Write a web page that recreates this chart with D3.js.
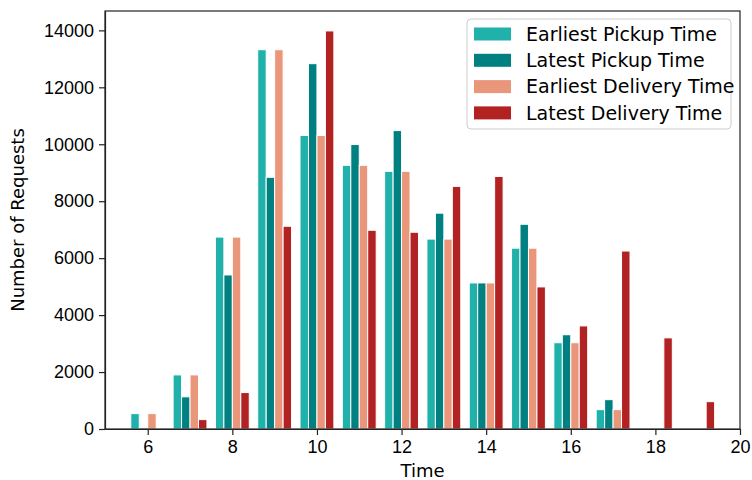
<!DOCTYPE html>
<html>
<head>
<meta charset="utf-8">
<script src="https://cdn.jsdelivr.net/npm/d3@7"></script>
<style>
  body { margin: 0; background: #fff; }
  svg { font-family: "DejaVu Sans", sans-serif; }
  .axis text { font-size: 18px; fill: #000; }
  .axis path, .axis line { stroke: #222; stroke-width: 1.2px; }
</style>
</head>
<body>
<div id="chart"></div>
<script>
// --- DATOS ---
const hours = [6, 7, 8, 9, 10, 11, 12, 13, 14, 15, 16, 17, 18, 19];
const seriesNames = ["Earliest Pickup Time", "Latest Pickup Time", "Earliest Delivery Time", "Latest Delivery Time"];
const seriesColors = ["#20b2aa", "#008080", "#e9967a", "#b22222"];
const earliestPickup = [540, 1900, 6740, 13320, 10310, 9260, 9050, 6670, 5130, 6350, 3030, 680, 0, 0];
const latestPickup = [40, 1130, 5410, 8840, 12830, 9990, 10480, 7580, 5130, 7190, 3310, 1030, 0, 0];
const earliestDelivery = [540, 1900, 6740, 13320, 10310, 9260, 9050, 6670, 5130, 6350, 3030, 680, 0, 0];
const latestDelivery = [0, 330, 1280, 7120, 13980, 6980, 6910, 8520, 8870, 4990, 3620, 6250, 3200, 960];
const xTicks = [6, 8, 10, 12, 14, 16, 18, 20];
const yTicks = [0, 2000, 4000, 6000, 8000, 10000, 12000, 14000];

const allSeries = [earliestPickup, latestPickup, earliestDelivery, latestDelivery];
const barWidth = 0.2;

// --- SVG ---
const W = 752, H = 480;
const margin = { top: 11, right: 12, bottom: 51, left: 105 };
const width = W - margin.left - margin.right;
const height = H - margin.top - margin.bottom;

const svg = d3.select("#chart").append("svg")
    .attr("width", W)
    .attr("height", H)
  .append("g")
    .attr("transform", `translate(${margin.left},${margin.top})`);

// --- ESCALAS ---
const x = d3.scaleLinear().domain([4.99, 20]).range([0, width]);
const y = d3.scaleLinear().domain([0, 14680]).range([height, 0]);

// --- BARRAS ---
allSeries.forEach((vals, i) => {
    svg.append("g")
      .selectAll("rect")
      .data(hours.map((h, j) => ({ h: h, v: vals[j] })))
      .enter()
      .append("rect")
        .attr("x", d => x(d.h - 0.4 + i * barWidth))
        .attr("width", x(barWidth) - x(0))
        .attr("y", d => y(d.v))
        .attr("height", d => y(0) - y(d.v))
        .attr("fill", seriesColors[i])
        .attr("stroke", "#fff")
        .attr("stroke-width", 1);
});

// --- EJES ---
svg.append("g")
    .attr("class", "axis")
    .attr("transform", `translate(0,${height})`)
    .call(d3.axisBottom(x).tickValues(xTicks).tickSize(6).tickPadding(5).tickSizeOuter(0));

svg.append("g")
    .attr("class", "axis")
    .call(d3.axisLeft(y).tickValues(yTicks).tickFormat(d3.format("d")).tickSize(6).tickPadding(5).tickSizeOuter(0));

// marco (spines)
svg.append("rect")
    .attr("width", width)
    .attr("height", height)
    .attr("fill", "none")
    .attr("stroke", "#222")
    .attr("stroke-width", 1.2);

// etiquetas
svg.append("text")
    .attr("x", width / 2)
    .attr("y", height + 48)
    .attr("text-anchor", "middle")
    .style("font-size", "18px")
    .text("Time");

svg.append("text")
    .attr("transform", `translate(${-81},${height / 2}) rotate(-90)`)
    .attr("text-anchor", "middle")
    .style("font-size", "18px")
    .text("Number of Requests");

// --- LEYENDA ---
const legend = svg.append("g").attr("transform", `translate(${467 - margin.left},${19 - margin.top})`);
legend.append("rect")
    .attr("width", 264)
    .attr("height", 110)
    .attr("rx", 4)
    .attr("fill", "#fff")
    .attr("fill-opacity", 0.8)
    .attr("stroke", "#ccc")
    .attr("stroke-width", 1);

seriesNames.forEach((name, i) => {
    const row = legend.append("g").attr("transform", `translate(0,${15 + i * 26.3})`);
    row.append("rect")
        .attr("x", 7)
        .attr("y", -6.5)
        .attr("width", 37)
        .attr("height", 13)
        .attr("fill", seriesColors[i]);
    row.append("text")
        .attr("x", 59)
        .attr("dy", "0.35em")
        .style("font-size", "19px")
        .text(name);
});
</script>
</body>
</html>
